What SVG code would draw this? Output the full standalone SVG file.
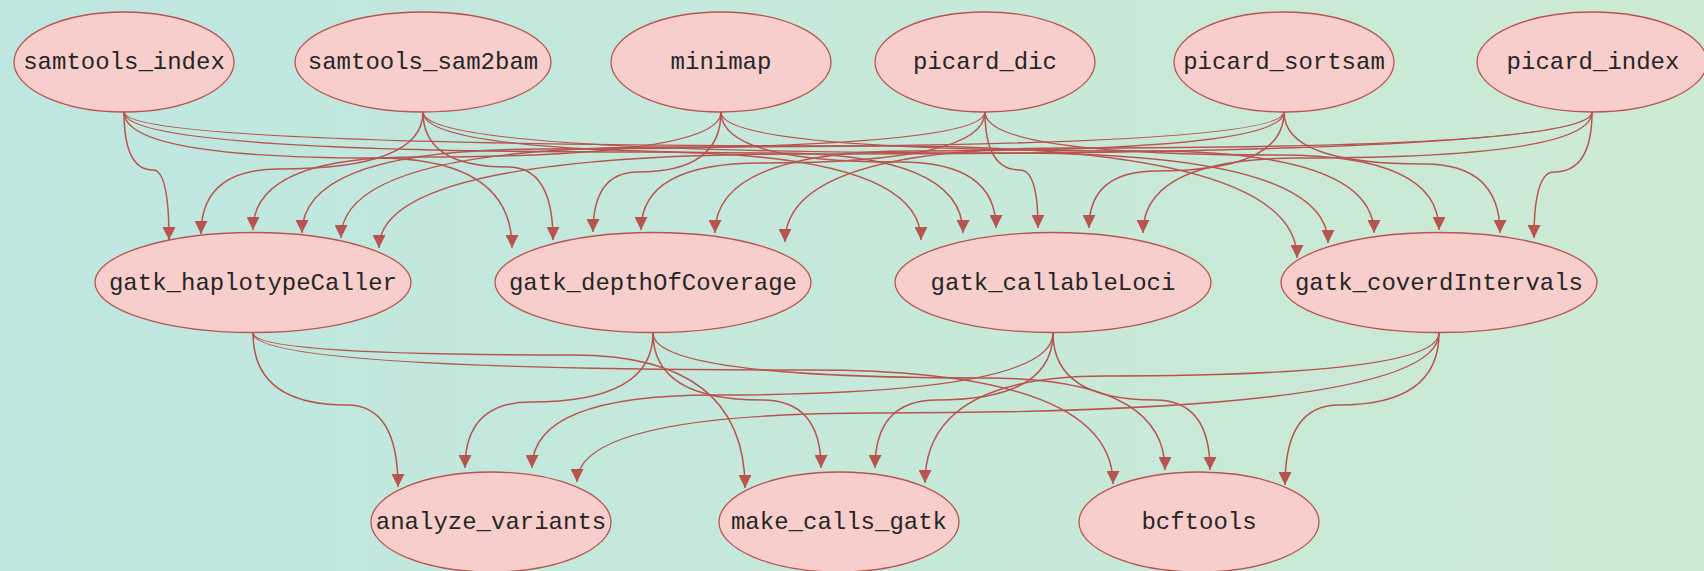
<svg xmlns="http://www.w3.org/2000/svg" width="1704" height="571" viewBox="0 0 1704 571">
<defs>
<linearGradient id="bg" x1="0" y1="0" x2="1" y2="0">
<stop offset="0" stop-color="#bee7e1"/>
<stop offset="1" stop-color="#cdead3"/>
</linearGradient>
<marker id="arrow" viewBox="0 0 12 12" refX="12" refY="6" markerWidth="13" markerHeight="13" markerUnits="userSpaceOnUse" orient="auto">
<path d="M0,0 L12,6 L0,12 z" fill="#b85450"/>
</marker>
</defs>
<style>
.node ellipse{fill:#f8cecc;stroke:#b85450;stroke-width:1.3}
.node text{font-family:"Liberation Mono",monospace;font-size:24px;fill:#262626;text-anchor:middle}
.edges path{fill:none;stroke:#b85450;stroke-width:1.5;marker-end:url(#arrow)}
</style>
<rect width="1704" height="571" fill="url(#bg)"/>
<g id="connectors" class="edges">
<path d="M124,112 Q124,170 153,170 Q169,170 169,240"/>
<path d="M423,112 Q423,169 279,169 Q201,169 201,234"/>
<path d="M721,112 Q721,157 417,157 Q253,157 253,230"/>
<path d="M985,112 Q985,149 541,149 Q302,149 302,233"/>
<path d="M1284,112 Q1284,147 671,147 Q341,147 341,238"/>
<path d="M1592,112 Q1592,154 803,154 Q379,154 379,248"/>
<path d="M124,112 Q124,158 376,158 Q512,158 512,248"/>
<path d="M423,112 Q423,167 508,167 Q553,167 553,240"/>
<path d="M721,112 Q721,172 638,172 Q593,172 593,232"/>
<path d="M985,112 Q985,163 761,163 Q641,163 641,230"/>
<path d="M1284,112 Q1284,151 914,151 Q715,151 715,233"/>
<path d="M1592,112 Q1592,148 1067,148 Q785,148 785,242"/>
<path d="M124,112 Q124,152 642,152 Q921,152 921,240"/>
<path d="M423,112 Q423,153 774,153 Q963,153 963,233"/>
<path d="M721,112 Q721,162 900,162 Q996,162 996,228"/>
<path d="M985,112 Q985,170 1020,170 Q1038,170 1038,228"/>
<path d="M1284,112 Q1284,171 1157,171 Q1089,171 1089,228"/>
<path d="M1592,112 Q1592,158 1300,158 Q1143,158 1143,233"/>
<path d="M124,112 Q124,146 886,146 Q1297,146 1297,258"/>
<path d="M423,112 Q423,153 1011,153 Q1328,153 1328,243"/>
<path d="M721,112 Q721,151 1145,151 Q1374,151 1374,233"/>
<path d="M985,112 Q985,155 1280,155 Q1439,155 1439,230"/>
<path d="M1284,112 Q1284,164 1424,164 Q1500,164 1500,233"/>
<path d="M1592,112 Q1592,172 1554,172 Q1534,172 1534,238"/>
<path d="M253,333 Q253,405 347,405 Q398,405 398,487"/>
<path d="M653,333 Q653,402 531,402 Q465,402 465,468"/>
<path d="M1053,333 Q1053,395 714,395 Q532,395 532,468"/>
<path d="M1439,333 Q1439,413 879,413 Q577,413 577,482"/>
<path d="M253,333 Q253,355 573,355 Q745,355 745,488"/>
<path d="M653,333 Q653,400 762,400 Q821,400 821,468"/>
<path d="M1053,333 Q1053,400 937,400 Q875,400 875,468"/>
<path d="M1439,333 Q1439,376 1105,376 Q925,376 925,483"/>
<path d="M253,333 Q253,370 812,370 Q1113,370 1113,484"/>
<path d="M653,333 Q653,378 986,378 Q1165,378 1165,470"/>
<path d="M1053,333 Q1053,400 1155,400 Q1210,400 1210,470"/>
<path d="M1439,333 Q1439,405 1339,405 Q1285,405 1285,485"/>
</g>
<g id="samtools_index" class="node"><ellipse cx="124" cy="62" rx="110" ry="50"/><text x="124" y="69">samtools_index</text></g>
<g id="samtools_sam2bam" class="node"><ellipse cx="423" cy="62" rx="128" ry="50"/><text x="423" y="69">samtools_sam2bam</text></g>
<g id="minimap" class="node"><ellipse cx="721" cy="62" rx="110" ry="50"/><text x="721" y="69">minimap</text></g>
<g id="picard_dic" class="node"><ellipse cx="985" cy="62" rx="110" ry="50"/><text x="985" y="69">picard_dic</text></g>
<g id="picard_sortsam" class="node"><ellipse cx="1284" cy="62" rx="110" ry="50"/><text x="1284" y="69">picard_sortsam</text></g>
<g id="picard_index" class="node"><ellipse cx="1592" cy="62" rx="115" ry="50"/><text x="1593" y="69">picard_index</text></g>
<g id="gatk_haplotypeCaller" class="node"><ellipse cx="253" cy="282.5" rx="158" ry="50"/><text x="253" y="290">gatk_haplotypeCaller</text></g>
<g id="gatk_depthOfCoverage" class="node"><ellipse cx="653" cy="282.5" rx="158" ry="50"/><text x="653" y="290">gatk_depthOfCoverage</text></g>
<g id="gatk_callableLoci" class="node"><ellipse cx="1053" cy="282.5" rx="158" ry="50"/><text x="1053" y="290">gatk_callableLoci</text></g>
<g id="gatk_coverdIntervals" class="node"><ellipse cx="1439" cy="282.5" rx="158" ry="50"/><text x="1439" y="290">gatk_coverdIntervals</text></g>
<g id="analyze_variants" class="node"><ellipse cx="491" cy="522" rx="120" ry="50"/><text x="491" y="529">analyze_variants</text></g>
<g id="make_calls_gatk" class="node"><ellipse cx="839" cy="522" rx="120" ry="50"/><text x="839" y="529">make_calls_gatk</text></g>
<g id="bcftools" class="node"><ellipse cx="1199" cy="522" rx="120" ry="50"/><text x="1199" y="529">bcftools</text></g>
</svg>
